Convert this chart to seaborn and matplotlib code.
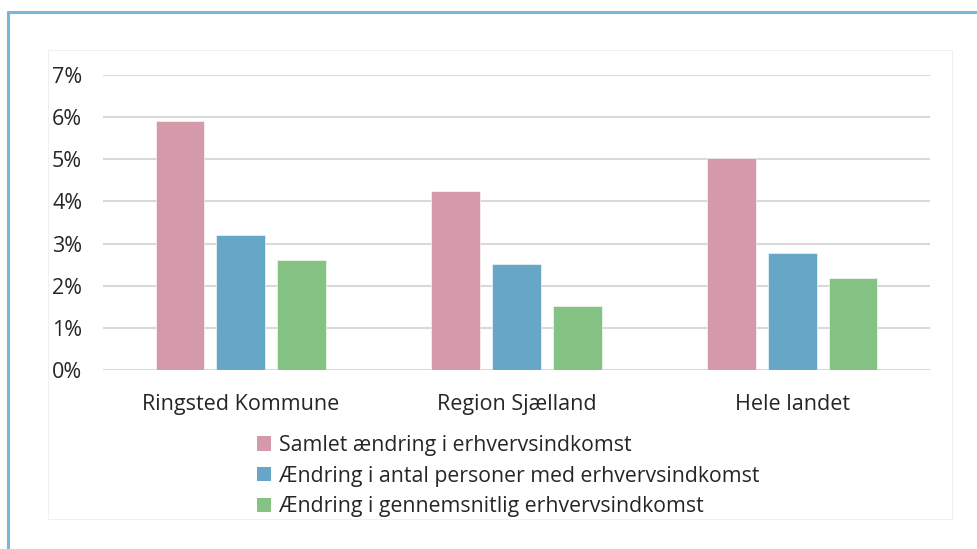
import numpy as np
import pandas as pd
import matplotlib
matplotlib.use('agg')
import matplotlib.pyplot as plt
from matplotlib.patches import Rectangle, Patch
from matplotlib.lines import Line2D
import seaborn as sns

# data (percent change)
omraader = ['Ringsted Kommune', 'Region Sjælland', 'Hele landet']
serier = ['Samlet ændring i erhvervsindkomst',
          'Ændring i antal personer med erhvervsindkomst',
          'Ændring i gennemsnitlig erhvervsindkomst']
samlet = [5.90, 4.25, 5.02]
antal = [3.21, 2.51, 2.77]
gennemsnit = [2.60, 1.53, 2.19]
farver = ['#d49aa9', '#66a7c8', '#85c385']
yticks = [0, 1, 2, 3, 4, 5, 6, 7]

df = pd.DataFrame({
    'omraade': omraader * 3,
    'serie': [serier[0]] * 3 + [serier[1]] * 3 + [serier[2]] * 3,
    'pct': samlet + antal + gennemsnit,
})

sns.set_style('white')
plt.rcParams['font.family'] = ['Open Sans', 'DejaVu Sans']
plt.rcParams['text.color'] = '#262626'

fig = plt.figure(figsize=(9.77, 5.49), dpi=100)
W, H = 977, 549

# outer blue frame + faint inner frame
fig.add_artist(Line2D([8 / W, 1], [1 - 12 / H, 1 - 12 / H], color='#7ab6d8', lw=2.2))
fig.add_artist(Line2D([8 / W, 8 / W], [0, 1 - 12 / H], color='#7ab6d8', lw=2.2))
fig.add_artist(Rectangle((48 / W, 1 - 519 / H), (952 - 48) / W, (519 - 50) / H,
                         fill=False, ec='#f0f0f0', lw=0.8))

ax = fig.add_axes([103 / W, 1 - 370 / H, (930 - 103) / W, (370 - 75) / H])
sns.barplot(data=df, x='omraade', y='pct', hue='serie', palette=farver,
            saturation=1, width=0.663, gap=0.2, edgecolor='white', linewidth=0.4,
            errorbar=None, ax=ax, legend=False, zorder=3)

ax.set_ylim(0, 7)
ax.set_xlim(-0.5, 2.5)
ax.set_yticks(yticks)
ax.set_yticklabels([f'{v}%' for v in yticks])
ax.grid(axis='y', color='#d9d9d9', lw=1.5, zorder=0)
ax.set_axisbelow(True)
for s in ax.spines.values():
    s.set_visible(False)
ax.tick_params(axis='both', length=0, labelsize=15.5, colors='#262626')
ax.tick_params(axis='y', pad=15)
ax.tick_params(axis='x', pad=17)
ax.set_xlabel('')
ax.set_ylabel('')

handles = [Patch(facecolor=c, edgecolor='none') for c in farver]
ax.legend(handles, serier, loc='upper left', bbox_to_anchor=(257 / W, 1 - 435 / H),
          bbox_transform=fig.transFigure, frameon=False, fontsize=15.3,
          handlelength=0.65, handleheight=0.65, handletextpad=0.4,
          labelspacing=0.45, borderpad=0, borderaxespad=0)

plt.savefig('out.png', dpi=100)
plt.close()
